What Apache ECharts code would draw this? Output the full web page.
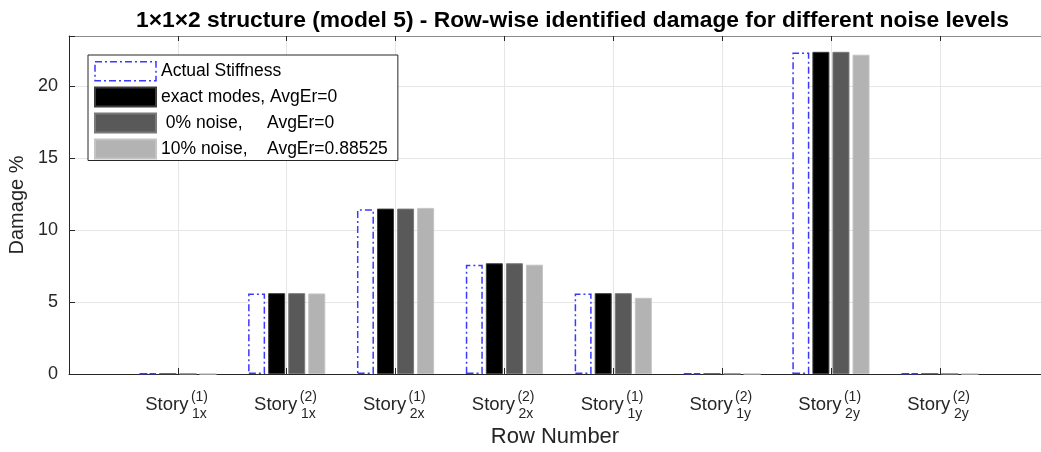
<!DOCTYPE html>
<html>
<head>
<meta charset="utf-8">
<script src="https://cdn.jsdelivr.net/npm/echarts@6/dist/echarts.min.js"></script>
<style>html,body{margin:0;padding:0;background:#fff}#c{width:1041px;height:452px}</style>
</head>
<body>
<div id="c"></div>
<script>
// ---- data ----
const storySup = ['(1)', '(2)', '(1)', '(2)', '(1)', '(2)', '(1)', '(2)'];
const storySub = ['1x', '1x', '2x', '2x', '1y', '1y', '2y', '2y'];
const actualStiffness = [0.04, 5.6, 11.45, 7.6, 5.6, 0.04, 22.35, 0.04];
const exactModes = [0, 5.62, 11.5, 7.7, 5.62, 0, 22.4, 0];
const noise0 = [0, 5.62, 11.5, 7.7, 5.62, 0, 22.4, 0];
const noise10 = [0, 5.6, 11.55, 7.6, 5.3, 0, 22.2, 0];
const seriesNames = ['Actual Stiffness', 'exact modes, AvgEr=0', ' 0% noise,     AvgEr=0', '10% noise,    AvgEr=0.88525'];
const yTicks = [0, 5, 10, 15, 20];

const FONT = "'Liberation Sans', Arial, sans-serif";
const toPts = arr => arr.map((v, i) => [i + 1, v]);
const inRange = v => Number.isInteger(v) && v >= 1 && v <= storySup.length;
const DASHDOT = [7, 3, 2, 3];

const chart = echarts.init(document.getElementById('c'), null, {renderer: 'canvas'});
const barCommon = {type: 'bar', barWidth: 17, barGap: '18%', xAxisIndex: 0, yAxisIndex: 0};
const XMAX = 8.93;

chart.setOption({
  animation: false,
  backgroundColor: '#fff',
  textStyle: {fontFamily: FONT},
  title: {
    text: '1\u00d71\u00d72 structure (model 5) - Row-wise identified damage for different noise levels',
    left: 131, top: 4,
    textStyle: {fontFamily: FONT, fontWeight: 'bold', fontSize: 22.8, color: '#000'}
  },
  legend: {
    orient: 'vertical', left: 88, top: 55,
    icon: 'rect',
    itemWidth: 61, itemHeight: 19, itemGap: 5,
    padding: [6, 10, 1, 6],
    borderColor: '#262626', borderWidth: 1, backgroundColor: '#fff',
    textStyle: {fontFamily: FONT, fontSize: 17.5, color: '#000'},
    data: [
      {name: seriesNames[0], itemStyle: {color: '#ffffff', borderColor: '#3a3aff', borderWidth: 1.5, borderType: DASHDOT}},
      {name: seriesNames[1]},
      {name: seriesNames[2]},
      {name: seriesNames[3]}
    ]
  },
  grid: {left: 69, top: 36, right: 0, bottom: 78, containLabel: false, outerBoundsMode: 'none'},
  xAxis: [
    {
      type: 'value', position: 'bottom', min: 0, max: XMAX, interval: 1,
      name: 'Row Number', nameLocation: 'middle', nameGap: 52,
      nameTextStyle: {fontFamily: FONT, fontSize: 22, color: '#262626'},
      axisLine: {lineStyle: {color: '#262626', width: 1}},
      axisTick: {inside: true, length: 6, lineStyle: {color: '#262626'}},
      splitLine: {show: true, lineStyle: {color: '#e6e6e6', width: 1}},
      axisLabel: {
        margin: 16, showMaxLabel: false,
        formatter: v => inRange(v) ? '{s|Story}{p|' + storySup[v - 1] + '}' : '',
        rich: {
          s: {fontFamily: FONT, fontSize: 18.5, color: '#262626', verticalAlign: 'bottom'},
          p: {fontFamily: FONT, fontSize: 14, color: '#262626', width: 22, align: 'left', verticalAlign: 'bottom', padding: [0, 0, 10, 0]}
        }
      }
    },
    {
      type: 'value', position: 'bottom', min: 0, max: XMAX, interval: 1,
      axisLine: {show: false}, axisTick: {show: false}, splitLine: {show: false},
      axisLabel: {
        margin: 16, showMaxLabel: false,
        formatter: v => inRange(v) ? '{h|Story}{b|' + storySub[v - 1] + '}' : '',
        rich: {
          h: {fontFamily: FONT, fontSize: 18.5, color: 'rgba(0,0,0,0)', verticalAlign: 'top'},
          b: {fontFamily: FONT, fontSize: 14, color: '#262626', width: 22, align: 'left', verticalAlign: 'top', padding: [17, 0, 0, 0]}
        }
      }
    },
    {
      type: 'value', position: 'top', min: 0, max: XMAX, interval: 1,
      axisLine: {lineStyle: {color: '#8c8c8c', width: 1}},
      axisTick: {inside: true, length: 5, lineStyle: {color: '#262626'}},
      axisLabel: {show: false}, splitLine: {show: false}
    }
  ],
  yAxis: {
    type: 'value', min: 0, max: 23.5, interval: 5,
    name: 'Damage %', nameLocation: 'middle', nameGap: 38,
    nameTextStyle: {fontFamily: FONT, fontSize: 20, color: '#262626'},
    axisLine: {show: true, lineStyle: {color: '#262626', width: 1}},
    axisTick: {show: true, inside: true, length: 6, lineStyle: {color: '#262626'}},
    splitLine: {show: true, lineStyle: {color: '#e6e6e6', width: 1}},
    axisLabel: {
      margin: 11, fontFamily: FONT, fontSize: 18, color: '#262626',
      formatter: v => yTicks.includes(v) ? String(v) : ''
    }
  },
  series: [
    Object.assign({}, barCommon, {
      name: seriesNames[0], data: toPts(actualStiffness), z: 3,
      itemStyle: {color: '#ffffff', borderColor: '#3a3aff', borderWidth: 1.5, borderType: DASHDOT}
    }),
    Object.assign({}, barCommon, {
      name: seriesNames[1], data: toPts(exactModes),
      itemStyle: {color: '#000000', borderColor: '#3c3c3c', borderWidth: 1}
    }),
    Object.assign({}, barCommon, {
      name: seriesNames[2], data: toPts(noise0),
      itemStyle: {color: '#595959', borderColor: '#7a7a7a', borderWidth: 1}
    }),
    Object.assign({}, barCommon, {
      name: seriesNames[3], data: toPts(noise10),
      itemStyle: {color: '#b3b3b3', borderColor: '#c4c4c4', borderWidth: 1}
    })
  ]
});
</script>
</body>
</html>
